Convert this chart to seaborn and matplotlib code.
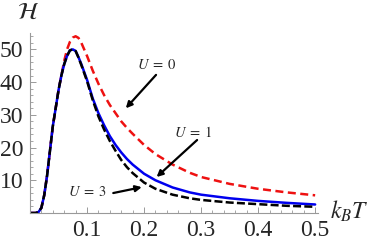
import matplotlib
matplotlib.use("Agg")
import matplotlib.pyplot as plt
import seaborn as sns
import pandas as pd
from matplotlib.ticker import MultipleLocator, FixedLocator

# ---- data ----
t_vals = [0.0, 0.01, 0.015, 0.02, 0.025, 0.03, 0.035, 0.04, 0.045, 0.05, 0.055,
          0.06, 0.065, 0.07, 0.075, 0.08, 0.085, 0.09, 0.1, 0.11, 0.12, 0.13,
          0.14, 0.15, 0.16, 0.17, 0.18, 0.2, 0.22, 0.25, 0.28, 0.3, 0.35, 0.4,
          0.45, 0.5]
h_u0 = [0.0, 0.0, 0.3, 1.6, 5.5, 11.5, 19.0, 26.5, 32.0, 37.5, 42.0,
        46.5, 50.0, 52.3, 53.6, 54.0, 53.5, 52.0, 48.0, 43.5, 39.5, 36.0,
        33.0, 30.5, 28.0, 26.0, 24.2, 20.8, 18.0, 14.8, 12.3, 11.0, 8.9, 7.4,
        6.3, 5.4]
h_u1 = [0.0, 0.0, 0.3, 1.6, 5.5, 11.5, 19.0, 26.5, 32.0, 37.5, 42.0,
        45.5, 48.0, 49.7, 50.0, 49.5, 47.6, 45.5, 40.7, 35.0, 30.5, 26.8,
        23.5, 20.8, 18.5, 16.5, 14.8, 12.0, 10.0, 7.8, 6.3, 5.6, 4.5, 3.7,
        3.1, 2.6]
h_u3 = [0.0, 0.0, 0.3, 1.6, 5.5, 11.5, 19.0, 26.5, 32.0, 37.5, 42.0,
        45.5, 48.0, 49.7, 50.0, 49.5, 47.5, 45.2, 40.3, 34.5, 29.5, 25.5,
        22.0, 19.0, 16.2, 14.0, 12.2, 9.3, 7.4, 5.6, 4.5, 4.0, 3.2, 2.7,
        2.2, 1.9]
x_ticks = [0.1, 0.2, 0.3, 0.4, 0.5]
x_tick_labels = ["0.1", "0.2", "0.3", "0.4", "0.5"]
y_ticks = [10, 20, 30, 40, 50]
y_tick_labels = ["10", "20", "30", "40", "50"]
labels = [r"$U\;=\;0$", r"$U\;=\;1$", r"$U\;=\;3$"]

df = pd.DataFrame({"t": t_vals, "u0": h_u0, "u1": h_u1, "u3": h_u3})

sns.set_style("ticks")
plt.rcParams["mathtext.fontset"] = "stix"
plt.rcParams["font.family"] = ["Liberation Serif", "DejaVu Serif"]

fig = plt.figure(figsize=(3.74, 2.44), dpi=100)
ax = fig.add_axes([30 / 374, 1 - 213 / 244, (318 - 30) / 374, (213 - 33) / 244])

sns.lineplot(data=df, x="t", y="u0", ax=ax, color="#ee1111", lw=1.8,
             linestyle=(0, (3.2, 1.8)))
sns.lineplot(data=df, x="t", y="u1", ax=ax, color="#0000ee", lw=1.8)
sns.lineplot(data=df, x="t", y="u3", ax=ax, color="black", lw=1.8,
             linestyle=(0, (3.2, 1.3)))

ax.set_xlim(0, 0.505)
ax.set_ylim(0, 55)
ax.set_xlabel("")
ax.set_ylabel("")
sns.despine(ax=ax)
for s in ("left", "bottom"):
    ax.spines[s].set_color("#999999")
    ax.spines[s].set_linewidth(0.8)

ax.xaxis.set_major_locator(FixedLocator(x_ticks))
ax.set_xticklabels(x_tick_labels)
ax.yaxis.set_major_locator(FixedLocator(y_ticks))
ax.set_yticklabels(y_tick_labels)
ax.xaxis.set_minor_locator(MultipleLocator(0.02))
ax.yaxis.set_minor_locator(MultipleLocator(2))
ax.tick_params(which="major", direction="in", length=4, width=0.7,
               color="#999999", labelsize=17, pad=5)
ax.tick_params(which="minor", direction="in", length=2, width=0.6,
               color="#999999")
ax.tick_params(axis="y", pad=5)

fig.text(28 / 374, 1 - 13 / 244, r"$\mathcal{H}$", fontsize=17,
         ha="center", va="center")
fig.text(349 / 374, 1 - 211 / 244, r"$k_B T$", fontsize=17,
         ha="center", va="center")

arrow = dict(arrowstyle="-|>", color="black", lw=1.6, mutation_scale=9,
             shrinkA=0, shrinkB=0)
ax.annotate("", xy=(0.168, 32.0), xytext=(0.221, 42.2), arrowprops=arrow)
ax.annotate("", xy=(0.222, 11.0), xytext=(0.293, 22.3), arrowprops=arrow)
ax.annotate("", xy=(0.196, 7.9), xytext=(0.146, 6.1), arrowprops=arrow)
ax.text(0.223, 45.3, labels[0], fontsize=10.5, ha="center", va="center")
ax.text(0.287, 24.5, labels[1], fontsize=10.5, ha="center", va="center")
ax.text(0.100, 6.3, labels[2], fontsize=10.5, ha="center", va="center")

fig.savefig("out.png", dpi=100)
